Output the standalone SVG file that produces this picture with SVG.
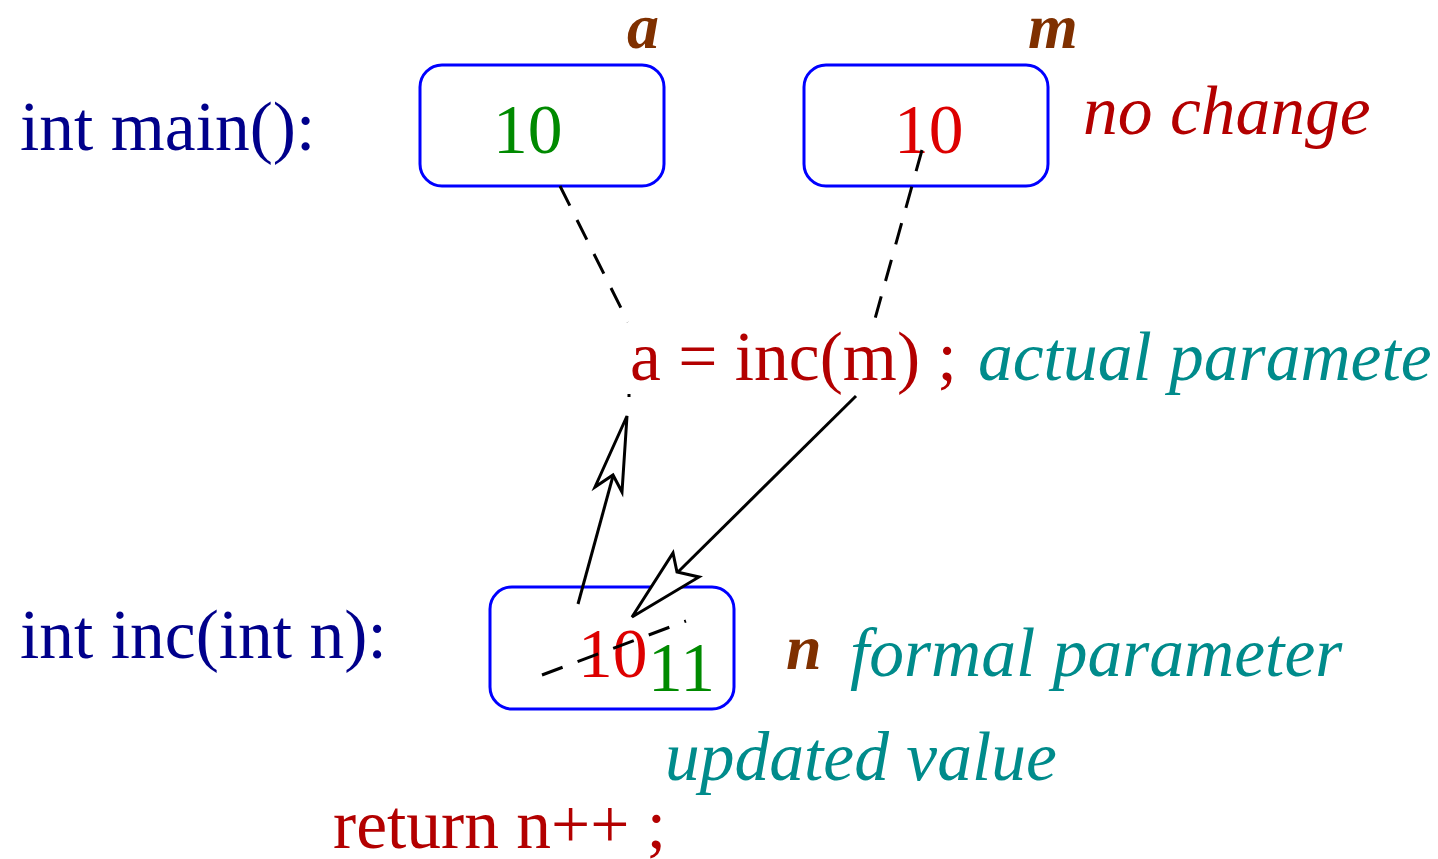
<svg xmlns="http://www.w3.org/2000/svg" width="1438" height="859" viewBox="0 0 1438 859">
<style>
.box{fill:#fff;stroke:#0000ff;stroke-width:3}
.t{font-family:"Liberation Serif","Times New Roman",serif;font-size:69.5px}
.i{font-style:italic}
.lab{font-family:"Liberation Serif","Times New Roman",serif;font-size:64px;font-style:italic;font-weight:bold;fill:#7f3000}
.navy{fill:#00008b}
.red{fill:#b30000}
.bred{fill:#dd0000}
.green{fill:#008a00}
.teal{fill:#008b8b}
.dash{fill:none;stroke:#000;stroke-width:3;stroke-dasharray:22,16}
.ln{fill:none;stroke:#000;stroke-width:3}
.head{fill:#fff;stroke:#000;stroke-width:3;stroke-linejoin:miter}
</style>
<rect width="1438" height="859" fill="#fff"/>
<g id="labels">
<text class="t navy" x="20" y="150">int main():</text>
<text class="t navy" x="20" y="658">int inc(int n):</text>
<text class="t red" x="630" y="380">a = inc(m) ;</text>
<text class="t i teal" x="978" y="380">actual paramete</text>
<text class="t i red" x="1083" y="134">no change</text>
<text class="t i teal" x="850" y="676">formal parameter</text>
<text class="t i teal" x="665" y="780">updated value</text>
<text class="t red" x="333" y="848">return n++ ;</text>
</g>
<g id="node-a">
<rect class="box" x="420" y="65" width="244" height="121" rx="22"/>
<text class="t green" x="493" y="153">10</text>
<text class="lab" x="627" y="48">a</text>
</g>
<g id="node-m">
<rect class="box" x="804" y="65" width="244" height="121" rx="22"/>
<text class="t bred" x="894" y="153">10</text>
<text class="lab" x="1028" y="48">m</text>
</g>
<g id="node-n">
<rect class="box" x="490" y="587" width="244" height="122" rx="22"/>
<text class="t bred" x="578" y="677">10</text>
<text class="t green" x="648" y="691">11</text>
<text class="lab" x="786" y="669">n</text>
</g>
<g id="connectors">
<line class="dash" x1="560" y1="186" x2="628" y2="322"/>
<line class="dash" x1="922" y1="150" x2="873" y2="326"/>
<line class="ln" x1="629" y1="394" x2="629" y2="397"/>
<line class="dash" x1="542" y1="675" x2="686" y2="621"/>
<line class="ln" x1="578" y1="604" x2="613" y2="476"/>
<path class="head" d="M627,416 L622,492 L613,475 L595,487 Z"/>
<line class="ln" x1="856" y1="396" x2="678" y2="572"/>
<path class="head" d="M632,617 L673,553 L677,572 L699,577 Z"/>
</g>
</svg>
